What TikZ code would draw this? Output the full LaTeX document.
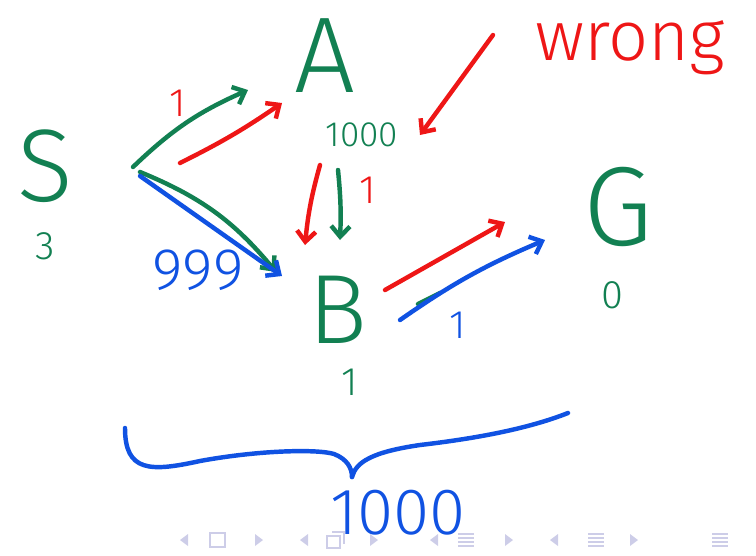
\documentclass[tikz,border=0pt]{standalone}
\usepackage{fontspec}
\setmainfont{Fira Sans}[UprightFont=* Light]
\usetikzlibrary{arrows.meta,positioning}
\definecolor{pengreen}{RGB}{18,128,82}
\definecolor{penred}{RGB}{238,22,22}
\definecolor{penblue}{RGB}{16,82,226}
\definecolor{navgray}{RGB}{205,205,232}
\tikzset{
  pen/.style={line width=3.8pt, line cap=round, line join=round},
  arr/.style={pen, -{Straight Barb[length=9pt,width=16pt,line width=3.8pt]}},
  huge/.style={inner sep=0pt, font=\fontsize{96}{96}\selectfont},
  mid/.style={inner sep=0pt, font=\fontsize{50}{50}\selectfont},
  small/.style={inner sep=0pt, font=\fontsize{34}{34}\selectfont},
  nav/.style={fill=navgray, draw=none}
}
\begin{document}
\begin{tikzpicture}[x=0.03cm,y=-0.03cm]
  \useasboundingbox (0,0) rectangle (756,555);
  % vertices with their values
  \node[huge, pengreen, font=\fontsize{88}{88}\selectfont] (S) at (45,166) {S};
  \node[small, pengreen] (Sv) at (45,246) {3};
  \node[huge, pengreen, font=\fontsize{92}{92}\selectfont] (A) at (325,56) {A};
  \node[small, pengreen, font=\fontsize{30}{30}\selectfont] (Av) at (362,135) {1000};
  \node[huge, pengreen, font=\fontsize{84}{84}\selectfont] (B) at (338,310) {B};
  \node[small, pengreen] (Bv) at (350,382) {1};
  \node[huge, pengreen] (G) at (618,207) {G};
  \node[small, pengreen] (Gv) at (612,295) {0};
  \node[mid, penred, font=\fontsize{60}{60}\selectfont] (wrong) at (630,48) {wrong};
  % arrow ends
  \coordinate (s1) at (133,167);
  \coordinate (s2) at (180,163);
  \coordinate (s3) at (140,172);
  \coordinate (s4) at (140,176);
  \coordinate (a1) at (248,90);
  \coordinate (a2) at (282,103);
  \coordinate (a3) at (320,165);
  \coordinate (a4) at (338,170);
  \coordinate (b1) at (276,272);
  \coordinate (b2) at (282,276);
  \coordinate (b3) at (305,245);
  \coordinate (b4) at (340,240);
  \coordinate (b5) at (385,290);
  \coordinate (b6) at (400,320);
  \coordinate (g1) at (505,222);
  \coordinate (g2) at (545,240);
  \coordinate (w1) at (493,35);
  \coordinate (w2) at (420,135);
  % S to A
  \draw[arr, pengreen] (s1) to[bend left=10] (a1);
  \draw[arr, penred] (s2) to[bend right=4] (a2);
  \node[small, penred] (l1) at (178,103) {1};
  % S to B
  \draw[arr, pengreen] (s3) to[bend left=14] (b1);
  \draw[arr, penblue] (s4) -- (b2);
  \node[mid, penblue] (l2) at (198,270) {999};
  % A to B
  \draw[arr, penred] (a3) to[bend right=5] (b3);
  \draw[arr, pengreen] (a4) to[bend left=4] (b4);
  \node[small, penred] (l3) at (368,190) {1};
  % B to G
  \draw[arr, penred] (b5) -- (g1);
  \draw[pen, pengreen] (418,304) -- (440,293);
  \draw[arr, penblue] (b6) to[bend left=6] (g2);
  \node[small, penblue] (l4) at (458,325) {1};
  % the wrong one
  \draw[arr, penred] (w1) -- (w2);
  % brace with total
  \draw[pen, penblue] (125,428) .. controls (125,472) and (150,472) .. (200,461)
    .. controls (260,450) and (318,449) .. (334,454)
    .. controls (347,459) and (352,468) .. (352,477);
  \draw[pen, penblue] (352,477) .. controls (356,462) and (372,452) .. (420,445)
    .. controls (480,438) and (530,428) .. (568,413);
  \node[mid, penblue, font=\fontsize{56}{56}\selectfont] (total) at (398,513) {1000};
  % navigation symbols
  \foreach \x in {180,300,430,550} \fill[nav] (\x,540) -- (\x+8,534) -- (\x+8,546) -- cycle;
  \foreach \x in {255,370,505,630} \fill[nav] (\x+8,540) -- (\x,534) -- (\x,546) -- cycle;
  \draw[navgray, line width=2pt] (210,533) rectangle (225,547);
  \draw[navgray, line width=2pt] (327,536) rectangle (340,548) (332,532) -- (344,532) -- (344,544);
  \foreach \x in {458,588,712} \foreach \y in {534,538,542,546} \draw[navgray, line width=2pt] (\x,\y) -- (\x+16,\y);
\end{tikzpicture}
\end{document}
